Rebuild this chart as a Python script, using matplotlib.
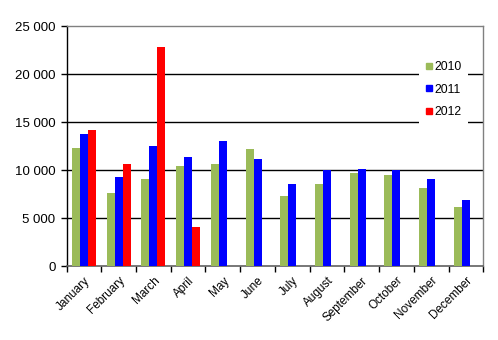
import matplotlib
matplotlib.use("Agg")
import matplotlib.pyplot as plt
import numpy as np
from matplotlib.ticker import FuncFormatter, FixedLocator
from matplotlib.lines import Line2D

months = ["January", "February", "March", "April", "May", "June", "July",
          "August", "September", "October", "November", "December"]
s2010 = [12300, 7600, 9100, 10450, 10650, 12200, 7300, 8550, 9700, 9500, 8150, 6150]
s2011 = [13800, 9300, 12500, 11400, 13050, 11200, 8550, 10000, 10100, 10000, 9100, 6900]
s2012 = [14200, 10650, 22850, 4100, None, None, None, None, None, None, None, None]
series_names = ["2010", "2011", "2012"]
colors = ["#9BBB59", "#0000FF", "#FF0000"]

plt.rcParams['font.family'] = ['Liberation Sans', 'DejaVu Sans']
W, H = 498, 340
fig = plt.figure(figsize=(W/100, H/100), dpi=100)
L, R, T, B = 66.5, 483.3, 26.3, 266.3
ax = fig.add_axes([L/W, 1-B/H, (R-L)/W, (B-T)/H])

x = np.arange(len(months))
bw = 0.23
for i, (vals, c) in enumerate(zip([s2010, s2011, s2012], colors)):
    xs = [xi + (i-1)*bw for xi, v in zip(x, vals) if v is not None]
    vs = [v for v in vals if v is not None]
    ax.bar(xs, vs, width=bw, color=c, linewidth=0, zorder=3)

ax.set_xlim(-0.5, 11.5)
ax.set_ylim(0, 25000)
ax.set_yticks(np.arange(0, 25001, 5000))
ax.yaxis.set_major_formatter(FuncFormatter(lambda v, p: f"{int(v):,}".replace(",", " ")))
for y in range(5000, 25000, 5000):
    ax.axhline(y, color='black', lw=1.0, zorder=1)

ax.xaxis.set_major_locator(FixedLocator(np.arange(-0.5, 12, 1)))
ax.xaxis.set_major_formatter(plt.NullFormatter())
ax.set_xticks(x, minor=True)
ax.set_xticklabels(months, minor=True, rotation=45, ha='right', rotation_mode='anchor', fontsize=8.5)
ax.tick_params(axis='x', which='minor', length=0, pad=6)
ax.tick_params(axis='x', which='major', length=4, width=1, color='black', direction='out')
ax.tick_params(axis='y', length=4, width=1, labelsize=9.5, pad=4)

for s in ['top', 'right']:
    ax.spines[s].set_color('#808080')
    ax.spines[s].set_linewidth(1)
ax.spines['bottom'].set_color('#606060')
ax.spines['bottom'].set_linewidth(1.2)
ax.spines['left'].set_color('black')
ax.spines['left'].set_linewidth(1)

handles = [Line2D([], [], marker='s', linestyle='none', markersize=5,
                  markerfacecolor=c, markeredgecolor=c) for c in colors]
leg = ax.legend(handles, series_names, loc='upper left',
                bbox_to_anchor=(413/W, 1-49/H), bbox_transform=fig.transFigure,
                frameon=True, fancybox=False, facecolor='white', edgecolor='none',
                framealpha=1, handlelength=0.6, handletextpad=0.15, labelspacing=0.85,
                fontsize=8.8, borderpad=0.5)
leg.set_zorder(5)

fig.savefig("out.png", dpi=100)
